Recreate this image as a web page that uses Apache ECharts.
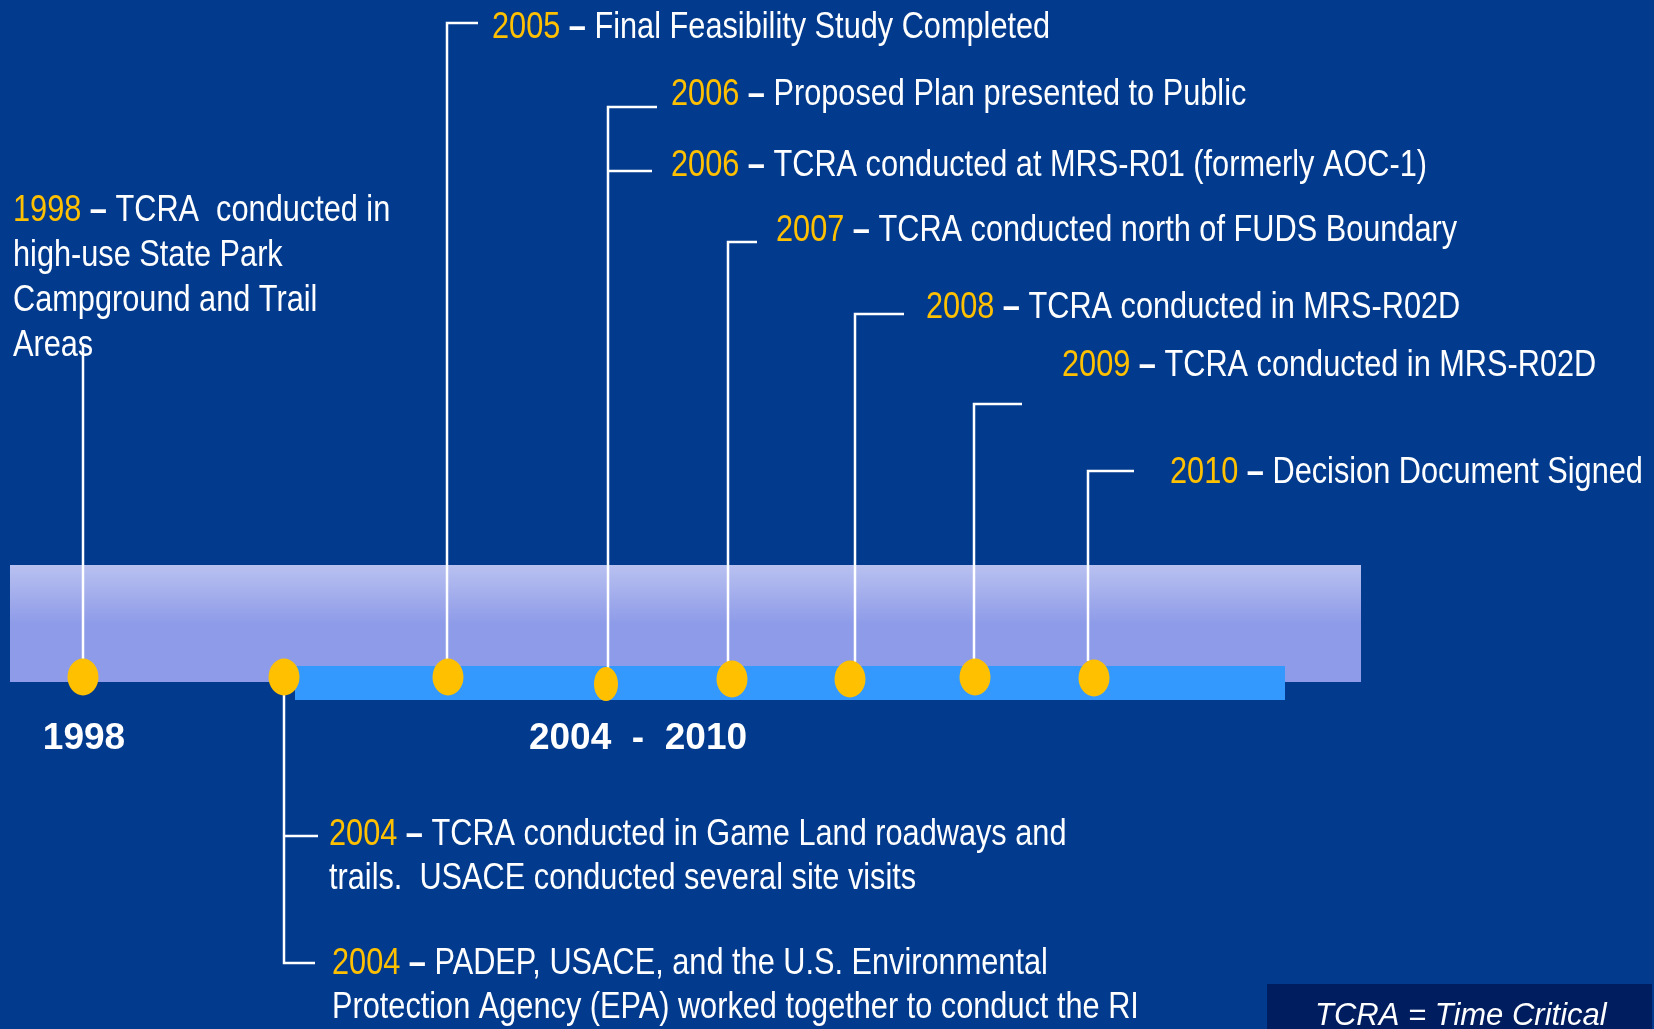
<!DOCTYPE html>
<html>
<head>
<meta charset="utf-8">
<title>TCRA timeline</title>
<script src="https://cdn.jsdelivr.net/npm/echarts@6/dist/echarts.min.js"></script>
<style>
  html, body { margin: 0; padding: 0; background: #023a8e; }
  #chart { width: 1654px; height: 1029px; }
</style>
</head>
<body>
<div id="chart"></div>
<script>
// ---- data ----
const markerYears = ['1998', '2004', '2005', '2006', '2007', '2008', '2009', '2010']
const upperYears = ['2005', '2006', '2006', '2007', '2008', '2009', '2010']
const upperText = [
  'Final Feasibility Study Completed',
  'Proposed Plan presented to Public',
  'TCRA conducted at MRS-R01 (formerly AOC-1)',
  'TCRA conducted north of FUDS Boundary',
  'TCRA conducted in MRS-R02D',
  'TCRA conducted in MRS-R02D',
  'Decision Document Signed'
]
const earlyYear = '1998'
const earlyLines = ['TCRA  conducted in', 'high-use State Park', 'Campground and Trail', 'Areas']
const lowerYears = ['2004', '2004']
const lowerLines = [
  ['TCRA conducted in Game Land roadways and', 'trails.  USACE conducted several site visits'],
  ['PADEP, USACE, and the U.S. Environmental', 'Protection Agency (EPA) worked together to conduct the RI']
]
const periodLabels = ['1998', '2004  -  2010']
const footnote = 'TCRA = Time Critical'

// ---- layout (axis units = page px) ----
const markerX = [83, 284, 448, 606, 732, 850, 975, 1094]
const markerY = [677, 677, 677, 684, 679, 679, 677, 678]
const markerSize = [[31, 37], [31, 37], [31, 37], [24, 34], [31, 37], [31, 37], [31, 37], [31, 37]]
const upperX = [492, 671, 671, 776, 926, 1062, 1170]
const upperY = [28, 95, 166, 231, 308, 366, 473]
const stems = [
  [[83, 345], [83, 662]],
  [[478, 23], [447, 23], [447, 660]],
  [[657, 107], [608, 107], [608, 668]],
  [[652, 171], [608, 171]],
  [[757, 242], [728, 242], [728, 662]],
  [[904, 314], [855, 314], [855, 662]],
  [[1022, 404], [974, 404], [974, 660]],
  [[1134, 471], [1088, 471], [1088, 661]],
  [[284, 695], [284, 963], [315, 963]],
  [[284, 836], [318, 836]]
]

// Arial Narrow look: Arial-metric font squeezed horizontally
const SANS = '"Liberation Sans", Arial, sans-serif'
const NARROW_SCALE = 0.83
const RICH = {
  y: { fill: '#ffc000', fontFamily: SANS, fontSize: 37 },
  d: { fill: '#ffffff', fontFamily: SANS, fontSize: 37, fontWeight: 'bold' },
  t: { fill: '#ffffff', fontFamily: SANS, fontSize: 37 },
  b: { fill: '#ffffff', fontFamily: SANS, fontSize: 37, fontWeight: 'bold' },
  f: { fill: '#ffffff', fontFamily: SANS, fontSize: 31, fontStyle: 'italic' }
}
const headed = (year, line) => `{y|${year}}{d| – }{t|${line}}`

// build label list from the arrays above
const labels = []
upperYears.forEach((y, i) => {
  labels.push({ x: upperX[i], y: upperY[i], text: headed(y, upperText[i]), sx: NARROW_SCALE })
})
earlyLines.forEach((line, i) => {
  labels.push({
    x: 13,
    y: 211 + i * 45,
    text: i === 0 ? headed(earlyYear, line) : `{t|${line}}`,
    sx: NARROW_SCALE
  })
})
const lowerPos = [[329, 835], [332, 964]]
lowerYears.forEach((y, k) => {
  lowerLines[k].forEach((line, i) => {
    labels.push({
      x: lowerPos[k][0],
      y: lowerPos[k][1] + i * 44,
      text: i === 0 ? headed(y, line) : `{t|${line}}`,
      sx: NARROW_SCALE
    })
  })
})
labels.push({ x: 84, y: 739, text: `{b|${periodLabels[0]}}`, align: 'center', sx: 1 })
labels.push({ x: 638, y: 739, text: `{b|${periodLabels[1]}}`, align: 'center', sx: 1 })
labels.push({ x: 1315, y: 1016, text: `{f|${footnote}}`, sx: 1 })

const bands = [
  [10, 565, 1361, 682, 0],
  [295, 666, 1285, 700, 1],
  [1267, 984, 1652, 1040, 2]
]
const bandFill = [
  new echarts.graphic.LinearGradient(0, 0, 0, 1, [
    { offset: 0, color: '#b9c1f0' },
    { offset: 0.5, color: '#8e9be8' },
    { offset: 1, color: '#8e9be8' }
  ]),
  '#3399ff',
  '#001e5f'
]

const chart = echarts.init(document.getElementById('chart'))
chart.setOption({
  backgroundColor: '#023a8e',
  animation: false,
  grid: { left: 0, right: 0, top: 0, bottom: 0 },
  xAxis: { type: 'value', min: 0, max: 1654, show: false },
  yAxis: { type: 'value', min: 0, max: 1029, inverse: true, show: false },
  series: [
    {
      name: 'bands',
      type: 'custom',
      z: 1,
      data: bands,
      renderItem (params, api) {
        const a = api.coord([api.value(0), api.value(1)])
        const b = api.coord([api.value(2), api.value(3)])
        return {
          type: 'rect',
          shape: { x: a[0], y: a[1], width: b[0] - a[0], height: b[1] - a[1] },
          style: { fill: bandFill[api.value(4)] }
        }
      }
    },
    {
      name: 'stems',
      type: 'custom',
      z: 2,
      data: stems.map((s, i) => [s[0][0], s[0][1], i]),
      renderItem (params, api) {
        const pts = stems[api.value(2)].map(p => api.coord(p))
        return {
          type: 'polyline',
          shape: { points: pts },
          style: { stroke: '#ffffff', lineWidth: 2.5, fill: null }
        }
      }
    },
    {
      name: 'markers',
      type: 'scatter',
      z: 3,
      symbol: 'circle',
      symbolSize: (val, p) => markerSize[p.dataIndex],
      itemStyle: { color: '#ffc000', opacity: 1 },
      data: markerYears.map((y, i) => ({ name: y, value: [markerX[i], markerY[i]] }))
    },
    {
      name: 'labels',
      type: 'custom',
      z: 4,
      data: labels.map((l, i) => [l.x, l.y, i]),
      renderItem (params, api) {
        const l = labels[api.value(2)]
        const p = api.coord([api.value(0), api.value(1)])
        return {
          type: 'text',
          x: p[0],
          y: p[1],
          scaleX: l.sx,
          style: {
            text: l.text,
            rich: RICH,
            fill: '#ffffff',
            align: l.align || 'left',
            verticalAlign: 'middle'
          }
        }
      }
    }
  ]
})
</script>
</body>
</html>
